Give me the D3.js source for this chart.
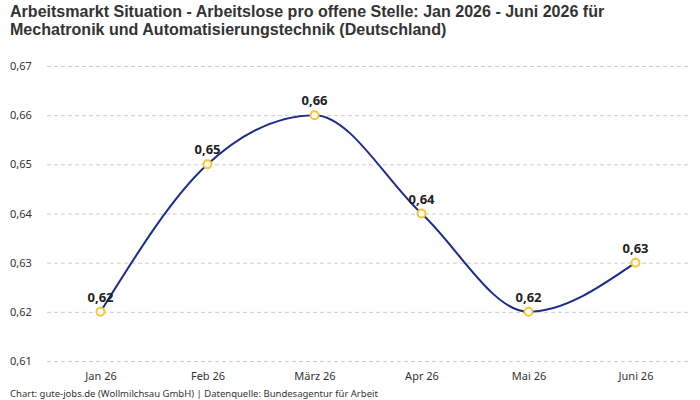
<!DOCTYPE html>
<html><head><meta charset="utf-8">
<script src="https://cdn.jsdelivr.net/npm/d3@7"></script>
<style>body{margin:0;background:#fff}svg{display:block}</style>
</head><body>
<svg id="c" width="700" height="400"></svg>
<script>
const categories = ["Jan 26","Feb 26","März 26","Apr 26","Mai 26","Juni 26"];
const values = [0.62, 0.65, 0.66, 0.64, 0.62, 0.63];
const yTicks = [0.61, 0.62, 0.63, 0.64, 0.65, 0.66, 0.67];
const titleLines = ["Arbeitsmarkt Situation - Arbeitslose pro offene Stelle: Jan 2026 - Juni 2026 für","Mechatronik und Automatisierungstechnik (Deutschland)"];
const footer = "Chart: gute-jobs.de (Wollmilchsau GmbH) | Datenquelle: Bundesagentur für Arbeit";

const svg = d3.select("#c");
const fmt = v => d3.format(".2f")(v).replace(".", ",");
const x = d3.scalePoint().domain(categories).range([47, 689]).padding(0.5);
const y = d3.scaleLinear().domain([0.61, 0.67]).range([361, 66]);

const title = svg.append("text").attr("y", 17)
  .attr("font-family", "'Liberation Sans', Arial, sans-serif").attr("font-weight", "bold")
  .attr("font-size", 16).attr("fill", "#333");
title.selectAll("tspan").data(titleLines).join("tspan")
  .attr("x", 10).attr("dy", (d,i) => i === 0 ? 0 : 18).text(d => d);
const w = title.select("tspan").node().getComputedTextLength();
title.attr("font-size", Math.min(17, 16 * 595 / w));

const yAxis = svg.append("g").attr("transform", "translate(47,0)")
  .call(d3.axisLeft(y).tickValues(yTicks).tickSize(-642).tickFormat(fmt));
yAxis.select(".domain").remove();
yAxis.selectAll(".tick line").attr("stroke", "#ccc").attr("stroke-dasharray", "4,3");
yAxis.selectAll(".tick text").attr("x", -37).attr("text-anchor", "start")
  .attr("font-family", "'Noto Sans', sans-serif").attr("font-size", 11).attr("fill", "#333");

const xAxis = svg.append("g").attr("transform", "translate(0,361)")
  .call(d3.axisBottom(x).tickSize(0).tickPadding(11));
xAxis.select(".domain").remove();
xAxis.selectAll(".tick text").attr("font-family", "'Noto Sans', sans-serif")
  .attr("font-size", 11).attr("fill", "#333");

const line = d3.line().x((d,i) => x(categories[i])).y(d => y(d)).curve(d3.curveMonotoneX);
svg.append("path").datum(values).attr("d", line)
  .attr("fill", "none").attr("stroke", "#1c2b8e").attr("stroke-width", 2);

svg.append("g").selectAll("circle").data(values).join("circle")
  .attr("cx", (d,i) => x(categories[i])).attr("cy", d => y(d)).attr("r", 4)
  .attr("fill", "#fff").attr("stroke", "#f7c531").attr("stroke-width", 2);

svg.append("g").selectAll("text").data(values).join("text")
  .attr("x", (d,i) => x(categories[i])).attr("y", d => y(d) - 10)
  .attr("text-anchor", "middle").attr("font-family", "'Noto Sans', sans-serif")
  .attr("font-weight", "bold").attr("font-size", 13).attr("fill", "#222")
  .text(d => fmt(d));

svg.append("text").attr("x", 10).attr("y", 397)
  .attr("font-family", "'Noto Sans', sans-serif").attr("font-size", 9.5).attr("fill", "#333")
  .text(footer);
</script>
</body></html>
